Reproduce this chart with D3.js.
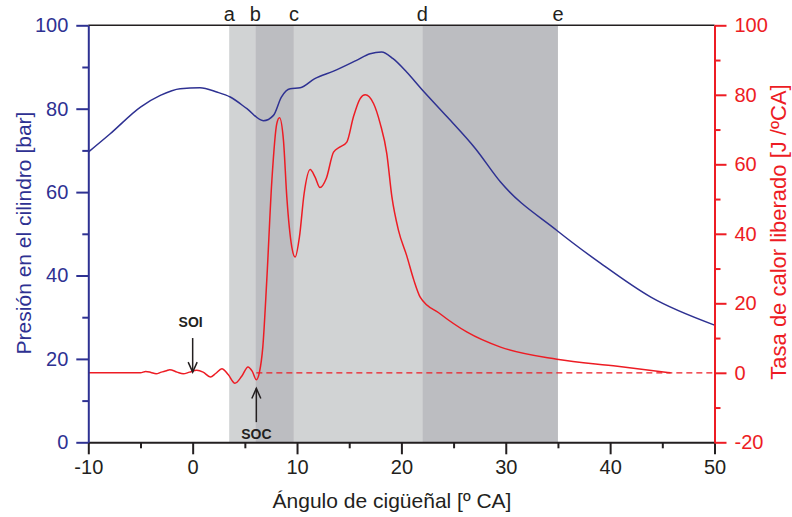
<!DOCTYPE html>
<html>
<head>
<meta charset="utf-8">
<script src="https://cdn.jsdelivr.net/npm/d3@7"></script>
<style>
  html, body { margin: 0; padding: 0; background: #fff; }
  svg { display: block; font-family: "Liberation Sans", Arial, Helvetica, sans-serif; }
</style>
</head>
<body>
<svg id="chart" width="792" height="517"></svg>
<script>
// ---------- data ----------
const pressureAngle = [-10, -7.9, -5, -3.1, -1.2, 0.7, 2.3, 3.6, 5.2, 6.78, 7.74, 8.5, 9.34, 10.3, 11.7, 13.5, 15.7, 17, 18.1, 19.2, 20.5, 21.9, 24.4, 27.1, 29.5, 34.9, 39.1, 43.9, 50];
const pressureBar   = [69.6, 74.0, 80.4, 83.2, 84.8, 85.0, 84.0, 82.8, 80.0, 77.1, 78.4, 82.8, 84.8, 85.0, 87.2, 89.0, 91.6, 93.2, 93.6, 92.0, 88.8, 84.8, 78.0, 70.4, 62.4, 50.8, 42.9, 34.8, 28.1];

const heatAngle = [-10, -5, -4.5, -4, -3.5, -3, -2.5, -2.2, -1.5, -0.9, -0.3, 0.4, 1, 1.7, 2.2, 2.8, 3.4, 4.05, 4.7, 5.3, 5.7, 6.1, 6.4, 6.72, 7.1, 7.59, 8.06, 8.32, 8.7, 9.02, 9.5, 9.82, 10.23, 10.68, 11.26, 11.73, 12.2, 12.8, 13.5, 14.13, 14.77, 15.4, 16.05, 16.53, 17.33, 17.97, 18.6, 19.09, 19.72, 20.5, 21.2, 21.8, 23.7, 26.3, 29.5, 34.9, 40.7, 45.8];
const heatRate  = [0, 0, 0.4, 0.1, -0.3, 0.2, 0.6, 0.9, 0.2, -0.3, 0.2, 0.7, 0.2, -1.2, -0.2, 1.2, -0.5, -3.0, -1.0, 1.7, 0.5, -2.0, 0.2, 7.4, 26.6, 55.4, 71.7, 73.4, 66.9, 50.6, 36.2, 33.3, 39.1, 51.6, 58.5, 56.3, 53.3, 55.9, 63.5, 65.0, 66.4, 73.6, 78.9, 80.0, 77.5, 71.7, 63.1, 50.6, 41.0, 33.8, 26.6, 21.8, 17.0, 11.7, 7.4, 3.9, 1.9, 0];

const baselineRange = [6.1, 50];           // dashed zero line
const bandEdges  = [3.5, 6.0, 9.7, 22.0, 35.0];
const bandLabels = ["a", "b", "c", "d", "e"];
const bandShade  = ["light", "dark", "light", "dark"];

const xTicks      = [-10, 0, 10, 20, 30, 40, 50];
const xMinorTicks = [-5, 5, 15, 25, 35, 45];
const leftTicks   = [0, 20, 40, 60, 80, 100];
const leftMinor   = [10, 30, 50, 70, 90];
const rightTicks  = [-20, 0, 20, 40, 60, 80, 100];
const rightMinor  = [-10, 10, 30, 50, 70, 90];

const annotations = [
  { label: "SOI", angle: 0,   tip: 0.2,  tail: 10,    text: 14.5, dir: "down" },
  { label: "SOC", angle: 6.1, tip: -4.5, tail: -14.2, text: -17.6, dir: "up" }
];

// ---------- setup ----------
const BLUE = "#2e3192", RED = "#ed1c24", BLACK = "#231f20";
const LIGHT = "#d1d3d4", DARK = "#bcbdc1";
const svg = d3.select("#chart");
const L = 88.3, R = 714.5, T = 25.3, B = 442.3;

const x  = d3.scaleLinear().domain([-10, 50]).range([L, R]);
const yP = d3.scaleLinear().domain([0, 100]).range([B, T]);
const yH = d3.scaleLinear().domain([-20, 100]).range([B, T]);
const fmt = d => (d < 0 ? "-" + Math.abs(d) : String(d));

// bands
const bands = d3.range(bandEdges.length - 1).map(i => ({ x0: bandEdges[i], x1: bandEdges[i + 1], shade: bandShade[i] }));
svg.append("g").selectAll("rect").data(bands).join("rect")
  .attr("x", d => x(d.x0)).attr("width", d => x(d.x1) - x(d.x0))
  .attr("y", T).attr("height", B - T)
  .attr("fill", d => d.shade === "light" ? LIGHT : DARK);

// band labels
svg.append("g").selectAll("text").data(bandEdges).join("text")
  .attr("x", d => x(d)).attr("y", 21)
  .attr("text-anchor", "middle").attr("font-size", 20).attr("fill", BLACK)
  .text((d, i) => bandLabels[i]);

// top border
svg.append("line").attr("x1", L).attr("x2", R).attr("y1", T).attr("y2", T)
  .attr("stroke", BLACK).attr("stroke-width", 1.6);

// dashed zero line
svg.append("line")
  .attr("x1", x(baselineRange[0])).attr("x2", x(baselineRange[1]))
  .attr("y1", yH(0)).attr("y2", yH(0))
  .attr("stroke", RED).attr("stroke-width", 1.2).attr("stroke-dasharray", "6,4");

// lines
const pData = pressureAngle.map((a, i) => [a, pressureBar[i]]);
const hData = heatAngle.map((a, i) => [a, heatRate[i]]);
svg.append("path").datum(pData)
  .attr("d", d3.line().x(d => x(d[0])).y(d => yP(d[1])).curve(d3.curveMonotoneX))
  .attr("fill", "none").attr("stroke", BLUE).attr("stroke-width", 1.5);
svg.append("path").datum(hData)
  .attr("d", d3.line().x(d => x(d[0])).y(d => yH(d[1])).curve(d3.curveMonotoneX))
  .attr("fill", "none").attr("stroke", RED).attr("stroke-width", 1.5);

// axes
function styleAxis(g, color) {
  g.select(".domain").attr("stroke", color).attr("stroke-width", 2);
  g.selectAll(".tick line").attr("stroke", color).attr("stroke-width", 2);
  g.selectAll(".tick text").attr("fill", color).attr("font-size", 20)
    .attr("font-family", "Liberation Sans, Arial, sans-serif");
}
// bottom
const gx = svg.append("g").attr("transform", `translate(0,${B})`)
  .call(d3.axisBottom(x).tickValues(xTicks).tickSize(12).tickSizeOuter(0).tickPadding(6).tickFormat(fmt));
styleAxis(gx, BLACK);
svg.append("g").attr("transform", `translate(0,${B})`)
  .call(d3.axisBottom(x).tickValues(xMinorTicks).tickSize(6).tickSizeOuter(0).tickFormat(""))
  .call(g => { g.select(".domain").remove(); g.selectAll("line").attr("stroke", BLACK).attr("stroke-width", 2); });
// left
const gl = svg.append("g").attr("transform", `translate(${L},0)`)
  .call(d3.axisLeft(yP).tickValues(leftTicks).tickSize(12).tickSizeOuter(0).tickPadding(8).tickFormat(fmt));
styleAxis(gl, BLUE);
svg.append("g").attr("transform", `translate(${L},0)`)
  .call(d3.axisLeft(yP).tickValues(leftMinor).tickSize(6).tickSizeOuter(0).tickFormat(""))
  .call(g => { g.select(".domain").remove(); g.selectAll("line").attr("stroke", BLUE).attr("stroke-width", 2); });
// right
const gr = svg.append("g").attr("transform", `translate(${R},0)`)
  .call(d3.axisRight(yH).tickValues(rightTicks).tickSize(12).tickSizeOuter(0).tickPadding(8).tickFormat(fmt));
styleAxis(gr, RED);
svg.append("g").attr("transform", `translate(${R},0)`)
  .call(d3.axisRight(yH).tickValues(rightMinor).tickSize(6).tickSizeOuter(0).tickFormat(""))
  .call(g => { g.select(".domain").remove(); g.selectAll("line").attr("stroke", RED).attr("stroke-width", 2); });

// axis titles
svg.append("text").attr("x", 392).attr("y", 508)
  .attr("text-anchor", "middle").attr("font-size", 21).attr("fill", BLACK)
  .text("Ángulo de cigüeñal [º CA]");
svg.append("text").attr("transform", `translate(31,233) rotate(-90)`)
  .attr("text-anchor", "middle").attr("font-size", 21).attr("fill", BLUE)
  .text("Presión en el cilindro [bar]");
svg.append("text").attr("transform", `translate(786,232) rotate(-90)`)
  .attr("text-anchor", "middle").attr("font-size", 22).attr("fill", RED)
  .text("Tasa de calor liberado [J /ºCA]");

// annotations
const ga = svg.append("g");
annotations.forEach(a => {
  const ax = x(a.angle), tipY = yH(a.tip), tailY = yH(a.tail);
  const s = a.dir === "down" ? -1 : 1;
  ga.append("line").attr("x1", ax).attr("x2", ax).attr("y1", tailY).attr("y2", tipY)
    .attr("stroke", BLACK).attr("stroke-width", 1.5);
  ga.append("path")
    .attr("d", `M${ax - 4.5},${tipY + s * 10}L${ax},${tipY}L${ax + 4.5},${tipY + s * 10}`)
    .attr("fill", "none").attr("stroke", BLACK).attr("stroke-width", 1.5);
  ga.append("text").attr("x", ax - (a.dir === "down" ? 2 : 0)).attr("y", yH(a.text))
    .attr("dy", "0.35em").attr("text-anchor", "middle")
    .attr("font-size", 14).attr("font-weight", "bold").attr("fill", BLACK)
    .text(a.label);
});
</script>
</body>
</html>
